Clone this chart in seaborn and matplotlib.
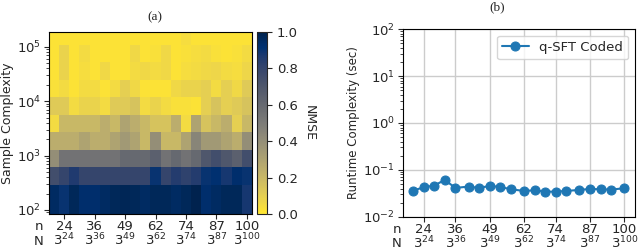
import numpy as np
import matplotlib
matplotlib.use('Agg')
import matplotlib.pyplot as plt
import seaborn as sns

# n values (N = 3^n)
n_vals = [20, 24, 28, 32, 36, 41, 45, 49, 53, 57, 62, 66, 70, 74, 78, 83, 87, 91, 95, 100]
tick_idx = [1, 4, 7, 10, 13, 16, 19]

# sample complexity (row centres of the heatmap)
samples = [186, 389, 832, 1738, 3630, 7586, 15849, 33884, 70795, 147911]

# NMSE, one row per sample complexity (bottom -> top)
nmse_r0 = [0.95, 0.90, 0.97, 0.93, 0.93, 0.95, 0.97, 0.98, 0.97, 0.95,
           0.97, 0.97, 0.95, 0.97, 1.00, 0.93, 0.95, 0.97, 0.97, 0.88]
nmse_r1 = [0.75, 0.80, 0.86, 0.80, 0.80, 0.80, 0.80, 0.80, 0.80, 0.80,
           0.90, 0.80, 0.85, 0.82, 0.85, 0.90, 0.92, 0.88, 0.93, 0.90]
nmse_r2 = [0.40, 0.55, 0.55, 0.55, 0.55, 0.55, 0.55, 0.60, 0.60, 0.60,
           0.65, 0.55, 0.60, 0.55, 0.60, 0.70, 0.75, 0.70, 0.65, 0.75]
nmse_r3 = [0.25, 0.25, 0.25, 0.30, 0.25, 0.25, 0.30, 0.35, 0.30, 0.20,
           0.40, 0.20, 0.20, 0.30, 0.45, 0.35, 0.35, 0.30, 0.25, 0.40]
nmse_r4 = [0.05, 0.20, 0.20, 0.20, 0.20, 0.25, 0.20, 0.30, 0.25, 0.20,
           0.15, 0.15, 0.25, 0.05, 0.30, 0.15, 0.20, 0.25, 0.10, 0.20]
nmse_r5 = [0.12, 0.12, 0.05, 0.08, 0.08, 0.05, 0.12, 0.12, 0.15, 0.05,
           0.08, 0.05, 0.03, 0.03, 0.02, 0.10, 0.15, 0.10, 0.12, 0.15]
nmse_r6 = [0.03, 0.05, 0.02, 0.05, 0.05, 0.02, 0.05, 0.10, 0.06, 0.02,
           0.02, 0.02, 0.06, 0.08, 0.08, 0.10, 0.05, 0.10, 0.06, 0.12]
nmse_r7 = [0.02, 0.08, 0.02, 0.04, 0.02, 0.06, 0.02, 0.02, 0.05, 0.06,
           0.05, 0.06, 0.02, 0.04, 0.05, 0.06, 0.07, 0.05, 0.04, 0.07]
nmse_r8 = [0.02, 0.08, 0.02, 0.05, 0.02, 0.02, 0.02, 0.02, 0.06, 0.02,
           0.03, 0.06, 0.02, 0.03, 0.04, 0.05, 0.03, 0.02, 0.03, 0.05]
nmse_r9 = [0.02, 0.02, 0.02, 0.02, 0.02, 0.02, 0.02, 0.02, 0.02, 0.02,
           0.02, 0.02, 0.02, 0.04, 0.02, 0.02, 0.02, 0.02, 0.02, 0.02]

# runtime of q-SFT Coded (sec)
runtime = [0.0361, 0.0425, 0.0462, 0.0611, 0.0411, 0.0440, 0.0411, 0.0454, 0.0432, 0.0385,
           0.0355, 0.0366, 0.0343, 0.0343, 0.0355, 0.0373, 0.0392, 0.0385, 0.0379, 0.0405]

sns.set_style("ticks")
plt.rcParams['font.family'] = ['DejaVu Sans']

tick_labels = [f"{n_vals[i]}\n$3^{{{n_vals[i]}}}$" for i in tick_idx]
TICK_FS = 9.5

fig = plt.figure(figsize=(6.4, 2.52), dpi=100)

# (a) heatmap
ax1 = fig.add_axes([0.0766, 0.151, 0.317, 0.722])
cax = fig.add_axes([0.4016, 0.151, 0.0156, 0.722])
Z = np.array([nmse_r0, nmse_r1, nmse_r2, nmse_r3, nmse_r4,
              nmse_r5, nmse_r6, nmse_r7, nmse_r8, nmse_r9])
cols = np.arange(len(n_vals))
mesh = ax1.pcolormesh(cols, samples, Z, cmap='cividis_r', vmin=0, vmax=1,
                      shading='nearest')
ax1.set_yscale('log')
ax1.set_xticks(tick_idx)
ax1.set_xticklabels(tick_labels, fontsize=TICK_FS, linespacing=0.9)
ax1.tick_params(axis='x', pad=1)
ax1.tick_params(axis='y', labelsize=TICK_FS, pad=2)
ax1.set_ylabel('Sample Complexity', fontsize=9, labelpad=2)
ax1.annotate('n\nN', xy=(0, 0), xycoords='axes fraction', xytext=(-4, -4.5),
             textcoords='offset points', ha='right', va='top', fontsize=TICK_FS,
             linespacing=1.15)
cb = fig.colorbar(mesh, cax=cax)
cb.set_label('NMSE', rotation=270, labelpad=13, fontsize=9)
cb.ax.tick_params(labelsize=TICK_FS)
cb.outline.set_linewidth(0.8)

# (b) runtime
ax2 = fig.add_axes([0.629, 0.140, 0.363, 0.744])
sns.lineplot(x=n_vals, y=runtime, ax=ax2, marker='o', markersize=6.5,
             color='#1f77b4', linewidth=1.5, markeredgecolor='#1f77b4',
             label='q-SFT Coded')
ax2.set_yscale('log')
ax2.set_ylim(1e-2, 1e2)
ax2.set_xticks([n_vals[i] for i in tick_idx])
ax2.set_xticklabels(tick_labels, fontsize=TICK_FS, linespacing=0.9)
ax2.tick_params(axis='x', pad=1)
ax2.tick_params(axis='y', labelsize=TICK_FS, pad=2)
ax2.grid(True, which='major', color='#cccccc', linewidth=1.0)
ax2.set_ylabel('Runtime Complexity (sec)', fontsize=8.5, labelpad=2)
ax2.annotate('n\nN', xy=(0, 0), xycoords='axes fraction', xytext=(-1, -4.5),
             textcoords='offset points', ha='right', va='top', fontsize=TICK_FS,
             linespacing=1.15)
ax2.legend(loc='upper right', fontsize=9.5)

for ax in (ax1, ax2):
    for s in ax.spines.values():
        s.set_linewidth(0.8)
        s.set_color('black')

fig.text(155 / 640, 1 - 17.5 / 252, '(a)', ha='center', va='center',
         family='Liberation Serif', fontsize=9.5)
fig.text(497 / 640, 1 - 7.5 / 252, '(b)', ha='center', va='center',
         family='Liberation Serif', fontsize=9.5)

fig.savefig('out.png', dpi=100)
